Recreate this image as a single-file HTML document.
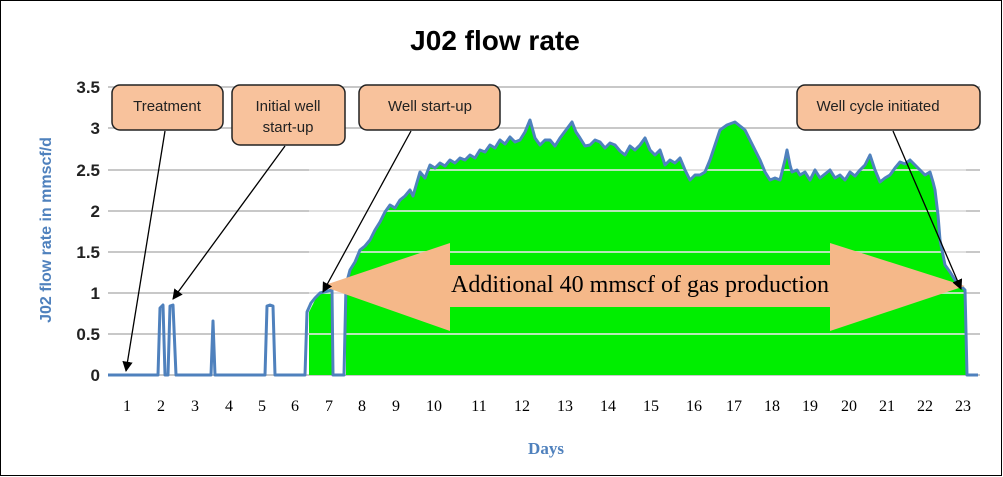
<!DOCTYPE html>
<html><head><style>
body{margin:0;background:#fff}
svg{display:block}
</style></head><body>
<svg width="1003" height="477" viewBox="0 0 1003 477" xmlns="http://www.w3.org/2000/svg">
<rect x="0.5" y="0.5" width="1001" height="475" fill="#fff" stroke="#000" stroke-width="1"/>
<text x="495" y="50" text-anchor="middle" font-family="Liberation Sans, sans-serif" font-weight="bold" font-size="28" fill="#000">J02 flow rate</text>
<g stroke="#c8c8c8" stroke-width="2">
<line x1="108" y1="87" x2="980" y2="87"/><line x1="108" y1="128" x2="980" y2="128"/>
<line x1="108" y1="170" x2="980" y2="170"/><line x1="108" y1="211" x2="980" y2="211"/>
<line x1="108" y1="252" x2="980" y2="252"/><line x1="108" y1="293" x2="980" y2="293"/>
<line x1="108" y1="334" x2="980" y2="334"/><line x1="108" y1="375" x2="980" y2="375"/>
</g>
<polygon fill="#00ee00" points="309,375 309,312 315,300 320,293 332,290 332,375 346,375 346,285 350,270 355,262 360,250 365,246 370,240 375,230 380,222 385,212 390,205 395,208 400,200 405,196 410,190 413,196 420,172 425,178 430,165 435,168 440,163 445,166 450,160 455,163 460,158 465,160 470,155 475,158 480,150 485,152 490,145 495,148 500,140 505,144 510,137 515,142 520,140 525,132 530,120 535,138 540,145 545,140 550,140 555,146 560,138 566,130 572,122 576,132 580,138 585,146 590,145 595,140 600,142 605,148 610,143 615,145 620,151 625,155 630,146 635,150 640,145 645,138 650,150 655,155 660,150 665,165 670,160 675,163 680,158 685,170 690,180 695,175 700,175 705,172 710,160 715,145 720,130 727,125 735,122 740,126 745,130 750,140 755,150 760,160 765,172 770,180 775,178 780,180 785,160 787,150 790,165 792,172 797,170 800,175 805,172 810,180 815,170 820,178 825,174 830,170 835,178 840,175 845,180 850,172 855,176 860,170 865,165 870,155 875,170 880,182 885,178 890,175 895,168 900,162 905,164 910,160 915,165 920,170 925,175 930,172 933,182 935,190 938,215 940,240 945,265 950,272 955,280 960,285 965,290 966,375"/>
<g stroke="#e6e6e6" stroke-width="2" opacity="0.8">
<line x1="309" y1="170" x2="966" y2="170"/><line x1="309" y1="211" x2="966" y2="211"/><line x1="309" y1="252" x2="966" y2="252"/>
<line x1="309" y1="293" x2="966" y2="293"/><line x1="309" y1="334" x2="966" y2="334"/>
</g>
<polygon fill="#00ee00" points="0,0" />
<polyline fill="none" stroke="#4f81bd" stroke-width="3" stroke-linejoin="round" points="108,375 158,375 160,308 163,305 165,375 168,375 170,306 173,305 176,375 211,375 213,321 215,375 265,375 267,306 270,305 273,306 275,375 305,375 307,312 311,303 315,298 320,293 332,290 333,375 344,375 346,285 350,270 355,262 360,250 365,246 370,240 375,230 380,222 385,212 390,205 395,208 400,200 405,196 410,190 413,196 420,172 425,178 430,165 435,168 440,163 445,166 450,160 455,163 460,158 465,160 470,155 475,158 480,150 485,152 490,145 495,148 500,140 505,144 510,137 515,142 520,140 525,132 530,120 535,138 540,145 545,140 550,140 555,146 560,138 566,130 572,122 576,132 580,138 585,146 590,145 595,140 600,142 605,148 610,143 615,145 620,151 625,155 630,146 635,150 640,145 645,138 650,150 655,155 660,150 665,165 670,160 675,163 680,158 685,170 690,180 695,175 700,175 705,172 710,160 715,145 720,130 727,125 735,122 740,126 745,130 750,140 755,150 760,160 765,172 770,180 775,178 780,180 785,160 787,150 790,165 792,172 797,170 800,175 805,172 810,180 815,170 820,178 825,174 830,170 835,178 840,175 845,180 850,172 855,176 860,170 865,165 870,155 875,170 880,182 885,178 890,175 895,168 900,162 905,164 910,160 915,165 920,170 925,175 930,172 933,182 935,190 938,215 940,240 945,265 950,272 955,280 960,285 965,290 967,375 978,375"/>
<polygon fill="#f5b889" points="322,286 450,243 450,265 830,265 830,243 965,286 830,331 830,307 450,307 450,331"/>
<text x="640" y="292" text-anchor="middle" font-family="Liberation Serif, serif" font-size="24" fill="#000">Additional 40 mmscf of gas production</text>
<g font-family="Liberation Sans, sans-serif" font-weight="bold" font-size="17" fill="#222" text-anchor="end">
<text x="100" y="93">3.5</text><text x="100" y="134">3</text><text x="100" y="176">2.5</text>
<text x="100" y="217">2</text><text x="100" y="258">1.5</text><text x="100" y="299">1</text>
<text x="100" y="340">0.5</text><text x="100" y="381">0</text>
</g>
<text transform="translate(51,230) rotate(-90)" text-anchor="middle" font-family="Liberation Sans, sans-serif" font-weight="bold" font-size="16" fill="#4f81bd">J02 flow rate in mmscf/d</text>
<g font-family="Liberation Serif, serif" font-size="16" fill="#000" text-anchor="middle">
<text x="127" y="411">1</text><text x="161" y="411">2</text><text x="195" y="411">3</text><text x="229" y="411">4</text>
<text x="262" y="411">5</text><text x="295" y="411">6</text><text x="329" y="411">7</text><text x="362" y="411">8</text>
<text x="396" y="411">9</text><text x="434" y="411">10</text><text x="479" y="411">11</text><text x="522" y="411">12</text>
<text x="565" y="411">13</text><text x="608" y="411">14</text><text x="651" y="411">15</text><text x="694" y="411">16</text>
<text x="734" y="411">17</text><text x="772" y="411">18</text><text x="810" y="411">19</text><text x="849" y="411">20</text>
<text x="887" y="411">21</text><text x="925" y="411">22</text><text x="963" y="411">23</text>
</g>
<text x="546" y="454" text-anchor="middle" font-family="Liberation Serif, serif" font-weight="bold" font-size="17" fill="#4f81bd">Days</text>
<g fill="#f8c29c" stroke="#222" stroke-width="1.5">
<rect x="112" y="85" width="111" height="45" rx="8"/>
<rect x="232" y="85" width="113" height="60" rx="8"/>
<rect x="359" y="85" width="141" height="45" rx="8"/>
<rect x="797" y="85" width="183" height="45" rx="8"/>
</g>
<g font-family="Liberation Sans, sans-serif" font-size="15" fill="#222" text-anchor="middle">
<text x="167" y="111">Treatment</text>
<text x="288" y="111">Initial well</text><text x="288" y="132">start-up</text>
<text x="430" y="111">Well start-up</text>
<text x="878" y="111">Well cycle initiated</text>
</g>
<defs><marker id="a" viewBox="0 0 10 10" refX="9" refY="5" markerWidth="8" markerHeight="8" orient="auto"><path d="M0,0 L10,5 L0,10 z" fill="#000"/></marker></defs>
<g stroke="#000" stroke-width="1.3" marker-end="url(#a)">
<line x1="165" y1="131" x2="126" y2="371"/>
<line x1="285" y1="146" x2="173" y2="299"/>
<line x1="411" y1="131" x2="323" y2="292"/>
<line x1="893" y1="131" x2="961" y2="289"/>
</g>
</svg>
</body></html>
